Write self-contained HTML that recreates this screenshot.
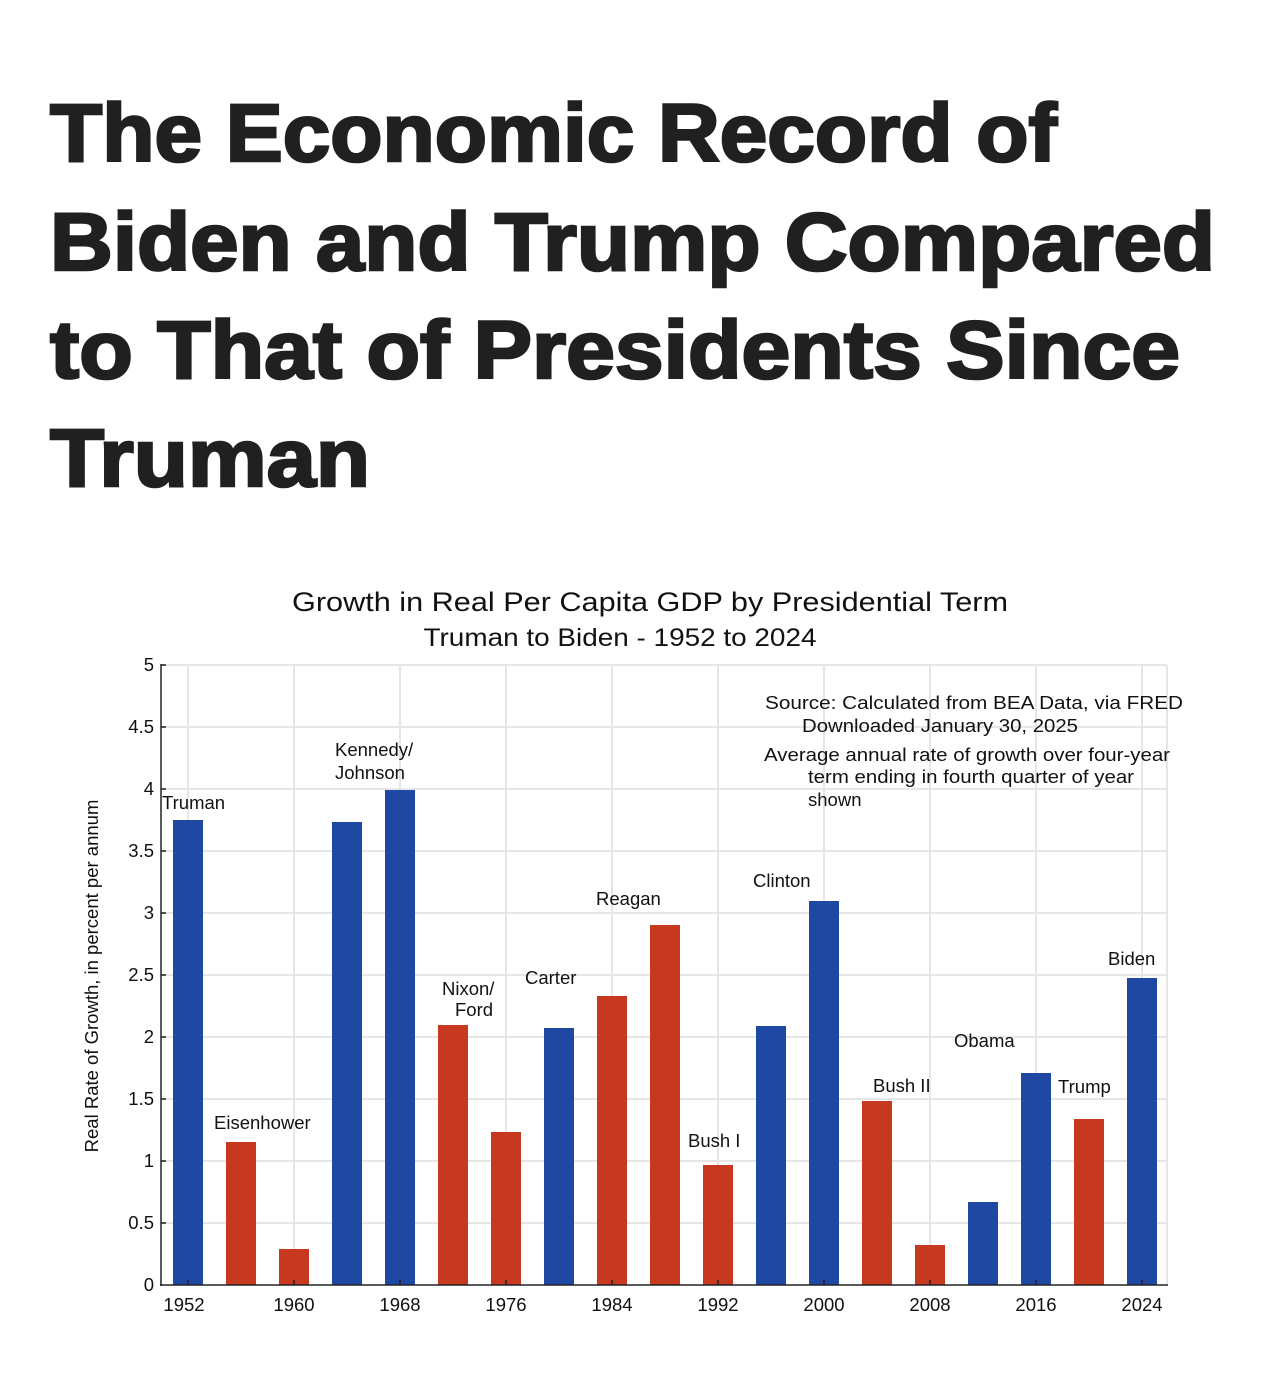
<!DOCTYPE html>
<html><head><meta charset="utf-8"><style>
html,body{margin:0;padding:0;background:#fff;width:1284px;height:1380px;overflow:hidden}
svg{display:block}
.t{font-family:"Liberation Sans",sans-serif;font-weight:bold;font-size:82px;fill:#202020;stroke:#202020;stroke-width:2.6}
.s{font-family:"Liberation Sans",sans-serif;fill:#111}
.l{font-family:"Liberation Sans",sans-serif;font-size:18.5px;fill:#111}
</style></head><body>
<svg width="1284" height="1380" viewBox="0 0 1284 1380" xmlns="http://www.w3.org/2000/svg">
<text class="t" x="50" y="161" textLength="1007" lengthAdjust="spacingAndGlyphs">The Economic Record of</text>
<text class="t" x="50" y="270" textLength="1165" lengthAdjust="spacingAndGlyphs">Biden and Trump Compared</text>
<text class="t" x="50" y="378" textLength="1130" lengthAdjust="spacingAndGlyphs">to That of Presidents Since</text>
<text class="t" x="50" y="486" textLength="320" lengthAdjust="spacingAndGlyphs">Truman</text>

<text class="s" x="650" y="611" font-size="27" text-anchor="middle" textLength="716" lengthAdjust="spacingAndGlyphs">Growth in Real Per Capita GDP by Presidential Term</text>
<text class="s" x="620" y="646" font-size="25" text-anchor="middle" textLength="393" lengthAdjust="spacingAndGlyphs">Truman to Biden - 1952 to 2024</text>

<g stroke="#e6e6e6" stroke-width="2">
<line x1="162" y1="665" x2="1167" y2="665"/><line x1="162" y1="727" x2="1167" y2="727"/>
<line x1="162" y1="789" x2="1167" y2="789"/><line x1="162" y1="851" x2="1167" y2="851"/>
<line x1="162" y1="913" x2="1167" y2="913"/><line x1="162" y1="975" x2="1167" y2="975"/>
<line x1="162" y1="1037" x2="1167" y2="1037"/><line x1="162" y1="1099" x2="1167" y2="1099"/>
<line x1="162" y1="1161" x2="1167" y2="1161"/><line x1="162" y1="1223" x2="1167" y2="1223"/>
<line x1="188" y1="665" x2="188" y2="1285"/><line x1="294" y1="665" x2="294" y2="1285"/>
<line x1="400" y1="665" x2="400" y2="1285"/><line x1="506" y1="665" x2="506" y2="1285"/>
<line x1="612" y1="665" x2="612" y2="1285"/><line x1="718" y1="665" x2="718" y2="1285"/>
<line x1="824" y1="665" x2="824" y2="1285"/><line x1="930" y1="665" x2="930" y2="1285"/>
<line x1="1036" y1="665" x2="1036" y2="1285"/><line x1="1142" y1="665" x2="1142" y2="1285"/>
<line x1="1167" y1="665" x2="1167" y2="1285"/>
</g>

<g fill="#1f48a3">
<rect x="173" y="820" width="30" height="465"/>
<rect x="332" y="822" width="30" height="463"/>
<rect x="385" y="790" width="30" height="495"/>
<rect x="544" y="1028" width="30" height="257"/>
<rect x="756" y="1026" width="30" height="259"/>
<rect x="809" y="901" width="30" height="384"/>
<rect x="968" y="1202" width="30" height="83"/>
<rect x="1021" y="1073" width="30" height="212"/>
<rect x="1127" y="978" width="30" height="307"/>
</g>
<g fill="#c6381f">
<rect x="226" y="1142" width="30" height="143"/>
<rect x="279" y="1249" width="30" height="36"/>
<rect x="438" y="1025" width="30" height="260"/>
<rect x="491" y="1132" width="30" height="153"/>
<rect x="597" y="996" width="30" height="289"/>
<rect x="650" y="925" width="30" height="360"/>
<rect x="703" y="1165" width="30" height="120"/>
<rect x="862" y="1101" width="30" height="184"/>
<rect x="915" y="1245" width="30" height="40"/>
<rect x="1074" y="1119" width="30" height="166"/>
</g>

<g stroke="#222" stroke-width="1.5">
<line x1="161" y1="664" x2="161" y2="1286"/>
<line x1="160" y1="1285" x2="1168" y2="1285"/>
<line x1="161" y1="665" x2="166" y2="665"/><line x1="161" y1="727" x2="166" y2="727"/>
<line x1="161" y1="789" x2="166" y2="789"/><line x1="161" y1="851" x2="166" y2="851"/>
<line x1="161" y1="913" x2="166" y2="913"/><line x1="161" y1="975" x2="166" y2="975"/>
<line x1="161" y1="1037" x2="166" y2="1037"/><line x1="161" y1="1099" x2="166" y2="1099"/>
<line x1="161" y1="1161" x2="166" y2="1161"/><line x1="161" y1="1223" x2="166" y2="1223"/>
<line x1="188" y1="1280" x2="188" y2="1285"/><line x1="294" y1="1280" x2="294" y2="1285"/>
<line x1="400" y1="1280" x2="400" y2="1285"/><line x1="506" y1="1280" x2="506" y2="1285"/>
<line x1="612" y1="1280" x2="612" y2="1285"/><line x1="718" y1="1280" x2="718" y2="1285"/>
<line x1="824" y1="1280" x2="824" y2="1285"/><line x1="930" y1="1280" x2="930" y2="1285"/>
<line x1="1036" y1="1280" x2="1036" y2="1285"/><line x1="1142" y1="1280" x2="1142" y2="1285"/>
</g>

<g class="l" text-anchor="end">
<text x="154" y="671">5</text><text x="154" y="733">4.5</text><text x="154" y="795">4</text>
<text x="154" y="857">3.5</text><text x="154" y="919">3</text><text x="154" y="981">2.5</text>
<text x="154" y="1043">2</text><text x="154" y="1105">1.5</text><text x="154" y="1167">1</text>
<text x="154" y="1229">0.5</text><text x="154" y="1291">0</text>
</g>
<g class="l" text-anchor="middle">
<text x="184" y="1311">1952</text><text x="294" y="1311">1960</text><text x="400" y="1311">1968</text>
<text x="506" y="1311">1976</text><text x="612" y="1311">1984</text><text x="718" y="1311">1992</text>
<text x="824" y="1311">2000</text><text x="930" y="1311">2008</text><text x="1036" y="1311">2016</text>
<text x="1142" y="1311">2024</text>
</g>
<text class="l" transform="translate(98,976) rotate(-90)" text-anchor="middle" font-size="18.5">Real Rate of Growth, in percent per annum</text>

<g class="l">
<text x="162" y="809">Truman</text>
<text x="214" y="1129">Eisenhower</text>
<text x="335" y="756">Kennedy/</text><text x="335" y="779">Johnson</text>
<text x="442" y="995">Nixon/</text><text x="455" y="1016">Ford</text>
<text x="525" y="984">Carter</text>
<text x="596" y="905">Reagan</text>
<text x="688" y="1147">Bush I</text>
<text x="753" y="887">Clinton</text>
<text x="873" y="1092">Bush II</text>
<text x="954" y="1047">Obama</text>
<text x="1058" y="1093">Trump</text>
<text x="1108" y="965">Biden</text>
<text x="765" y="709" textLength="418" lengthAdjust="spacingAndGlyphs">Source:  Calculated from BEA Data, via FRED</text>
<text x="802" y="732" textLength="276" lengthAdjust="spacingAndGlyphs">Downloaded January 30, 2025</text>
<text x="764" y="761" textLength="406" lengthAdjust="spacingAndGlyphs">Average annual rate of growth over four-year</text>
<text x="808" y="783" textLength="326" lengthAdjust="spacingAndGlyphs">term ending in fourth quarter of year</text>
<text x="808" y="806">shown</text>
</g>
</svg>
</body></html>
